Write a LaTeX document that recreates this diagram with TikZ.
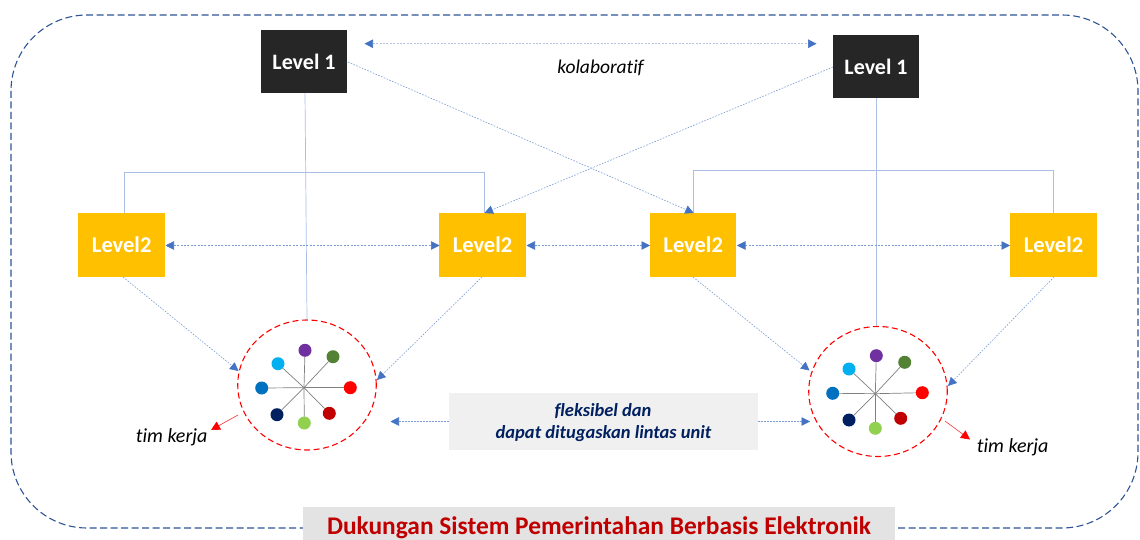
\documentclass[tikz,border=0pt]{standalone}
\usepackage{fontspec}
\setmainfont[Ligatures=NoCommon]{Carlito}
\usetikzlibrary{arrows.meta,shapes.geometric}
\definecolor{arrowblue}{HTML}{4472C4}
\definecolor{linkblue}{HTML}{8FAADC}
\definecolor{paleblue}{HTML}{B4C7E7}
\definecolor{frameblue}{HTML}{2F5597}
\definecolor{amber}{HTML}{FFC000}
\definecolor{darkbox}{HTML}{262626}
\definecolor{navytext}{HTML}{002060}
\definecolor{deepred}{HTML}{C00000}
\tikzset{
  x=1pt,y=-1pt,
  blueTip/.tip={Triangle[length=8.5pt,width=8.5pt,color=arrowblue]},
  redTip/.tip={Triangle[length=9pt,width=9pt,color=red]},
  levelone/.style={fill=darkbox,minimum width=86pt,minimum height=63pt,inner sep=0pt,outer sep=0pt,text=white,font=\fontsize{22}{26}\selectfont\bfseries},
  leveltwo/.style={fill=amber,minimum width=86.5pt,minimum height=64pt,inner sep=0pt,outer sep=0pt,text=white,font=\fontsize{22.5}{26}\selectfont\bfseries},
  tree/.style={draw=linkblue!75,line width=.7pt},
  dotlink/.style={draw=arrowblue!70,line width=.6pt,dash pattern=on 1.6pt off 1.4pt,-blueTip},
  duolink/.style={draw=arrowblue!70,line width=.6pt,dash pattern=on 2pt off 1.4pt,blueTip-blueTip},
  team/.style={ellipse,draw=red,line width=1.1pt,dash pattern=on 6pt off 3.5pt,minimum width=138.5pt,minimum height=130pt,inner sep=0pt,outer sep=0pt},
  member/.style={circle,minimum size=13pt,inner sep=0pt,outer sep=0pt},
  spoke/.style={draw=black!50,line width=.7pt},
  note/.style={font=\fontsize{19.5}{23}\selectfont\itshape,text=black,inner sep=0pt},
  redlink/.style={draw=red!80,line width=.6pt,-redTip}
}
\begin{document}
\begin{tikzpicture}
\useasboundingbox (0,0) rectangle (1140,540);
\clip (0,0) rectangle (1140,540);
\fill[white] (0,0) rectangle (1140,540);
% frame
\draw[frameblue,line width=1.1pt,dash pattern=on 7pt off 3.5pt,rounded corners=76pt] (11,15) rectangle (1138,528);
% boxes
\node[levelone] (a1) at (304,61.5) {Level 1};
\node[levelone] (b1) at (876,66.5) {Level 1};
\node[leveltwo] (a2) at (121.7,245) {Level2};
\node[leveltwo] (b2) at (482.5,245) {Level2};
\node[leveltwo] (c2) at (693.2,245) {Level2};
\node[leveltwo] (d2) at (1053.5,245) {Level2};
% teams
\node[team] (ta) at (307,385) {};
\node[team] (tb) at (878,391.5) {};
\coordinate (hubA) at (304,387.7);
\coordinate (hubB) at (875.3,393.7);
\foreach \n/\px/\py/\c in {p/305/350.3/7030A0,g/333/356.7/548235,r/350.3/387.7/FF0000,d/329.3/413.3/C00000,l/304.3/423/92D050,n/277/414.7/002060,b/261.7/388/0070C0,c/278/363.7/00B0F0}{
  \definecolor{mc}{HTML}{\c}
  \node[member,fill=mc] (A\n) at (\px,\py) {};
  \draw[spoke] (hubA) -- (A\n);
}
\foreach \n/\px/\py/\c in {p/876.3/355.7/7030A0,g/904.7/362.3/548235,r/922.3/392.7/FF0000,d/900.7/418.3/C00000,l/875.3/428.3/92D050,n/849/420/002060,b/832.7/393.3/0070C0,c/849/369/00B0F0}{
  \definecolor{mc}{HTML}{\c}
  \node[member,fill=mc] (B\n) at (\px,\py) {};
  \draw[spoke] (hubB) -- (B\n);
}
% trunks and trees
\coordinate (a1s) at (305,93);
\coordinate (tan) at (307,320);
\coordinate (b1s) at (876.5,98);
\coordinate (tbn) at (876.5,326);
\draw[tree] (a1s) -- (tan);
\draw[tree] (b1s) -- (tbn);
\coordinate (ta2) at (124,213);
\coordinate (tb2) at (484.5,213);
\coordinate (tc2) at (693.7,213);
\coordinate (td2) at (1053.6,213);
\coordinate (lvA) at (304,172.3);
\coordinate (lvB) at (876,170.3);
\draw[tree] (ta2) |- (lvA) -| (tb2);
\draw[tree] (tc2) |- (lvB) -| (td2);
% collaboration links
\coordinate (ka) at (364.5,43.7);
\coordinate (kb) at (816.5,43.7);
\draw[duolink,draw=paleblue] (ka) -- (kb);
\coordinate (a1e) at (348,62);
\coordinate (b1w) at (833,67);
\draw[dotlink] (a1e) -- (tc2);
\draw[dotlink] (b1w) -- (tb2);
\coordinate (a2e) at (165.5,245.5);
\coordinate (b2w) at (439.5,245.5);
\coordinate (b2e) at (526.5,245.5);
\coordinate (c2w) at (650,245.5);
\coordinate (c2e) at (737,245.5);
\coordinate (d2w) at (1010,245.5);
\draw[duolink] (a2e) -- (b2w);
\draw[duolink] (b2e) -- (c2w);
\draw[duolink] (c2e) -- (d2w);
% to teams
\coordinate (a2s) at (123,277);
\coordinate (b2s) at (482,277);
\coordinate (c2s) at (693,277);
\coordinate (d2s) at (1054,277);
\coordinate (taw) at (238.5,371);
\coordinate (tae) at (377,380);
\coordinate (tbw) at (809.5,370.5);
\coordinate (tbe) at (948,386);
\draw[dotlink] (a2s) -- (taw);
\draw[dotlink] (b2s) -- (tae);
\draw[dotlink] (c2s) -- (tbw);
\draw[dotlink] (d2s) -- (tbe);
% labels
\node[note] (kol) at (600.5,67.5) {kolaboratif};
\node[fill=black!6,minimum width=309pt,minimum height=57pt,inner sep=0pt,outer sep=0pt] (flex) at (603.5,421.5) {};
\node[font=\fontsize{18.5}{22}\selectfont\bfseries\itshape,text=navytext,inner sep=0pt] (flexa) at (603,411) {fleksibel dan};
\node[font=\fontsize{18.5}{22}\selectfont\bfseries\itshape,text=navytext,inner sep=0pt] (flexb) at (603.5,434) {dapat ditugaskan lintas unit};
\coordinate (fl) at (390.5,421.5);
\coordinate (fr) at (810,421.5);
\draw[dotlink] (flex.west) -- (fl);
\draw[dotlink] (flex.east) -- (fr);
\node[note,font=\fontsize{20}{24}\selectfont\itshape] (tka) at (171.7,437) {tim kerja};
\node[note,font=\fontsize{20}{24}\selectfont\itshape] (tkb) at (1012.7,447) {tim kerja};
\coordinate (rla) at (238,415);
\coordinate (rlb) at (211,430);
\coordinate (rra) at (945,421);
\coordinate (rrb) at (970,439.5);
\draw[redlink] (rla) -- (rlb);
\draw[redlink] (rra) -- (rrb);
\node[fill=black!11,minimum width=592pt,minimum height=34pt,inner sep=0pt,outer sep=0pt] (sysbox) at (599,524) {};
\node[font=\fontsize{25.4}{30}\selectfont\bfseries,text=deepred,inner sep=0pt] (systxt) at (599,527.5) {Dukungan Sistem Pemerintahan Berbasis Elektronik};
\end{tikzpicture}
\end{document}
